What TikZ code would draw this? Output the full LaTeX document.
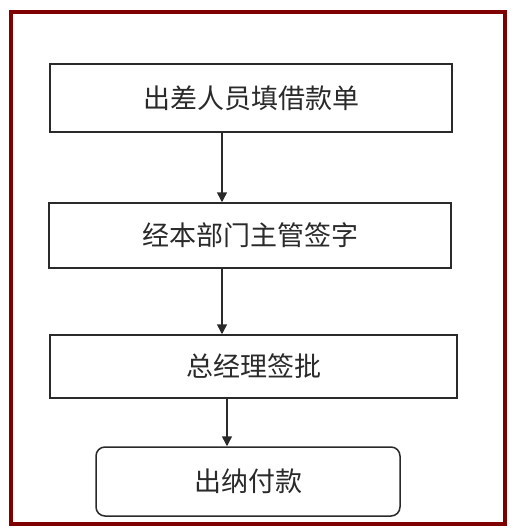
\documentclass[tikz,border=0pt]{standalone}
\usepackage{fontspec}
\newfontfamily\cjk{Noto Sans CJK SC}
\usetikzlibrary{arrows.meta}
\definecolor{framered}{HTML}{800000}
\definecolor{ink}{HTML}{2A2A2A}
\tikzset{
  x=1pt,y=-1pt,
  stepbox/.style={draw=ink,line width=1.5pt,fill=white,inner sep=0pt,
    text=ink,font=\cjk\fontsize{27}{31}\selectfont},
  endbox/.style={stepbox,rounded corners=9pt},
  flow/.style={draw=ink,line width=1.5pt,-{Triangle[length=10pt,width=10pt]}}
}
\begin{document}
\begin{tikzpicture}
\useasboundingbox (0,0) rectangle (518,530);
\fill[white] (0,0) rectangle (518,530);
\draw[framered,line width=4pt] (10.5,12) rectangle (505,524);
\node[stepbox,minimum width=402pt,minimum height=68pt] (a) at (251,98) {出差人员填借款单};
\node[stepbox,minimum width=402pt,minimum height=65pt] (b) at (250,235.5) {经本部门主管签字};
\node[stepbox,minimum width=407pt,minimum height=63pt] (c) at (253.5,366.5) {总经理签批};
\node[endbox,minimum width=304pt,minimum height=69pt] (d) at (248,481.5) {出纳付款};
\draw[flow] (a.south -| 222,0) -- (b.north -| 222,0);
\draw[flow] (b.south -| 222,0) -- (c.north -| 222,0);
\draw[flow] (c.south -| 227,0) -- (d.north -| 227,0);
\end{tikzpicture}
\end{document}
